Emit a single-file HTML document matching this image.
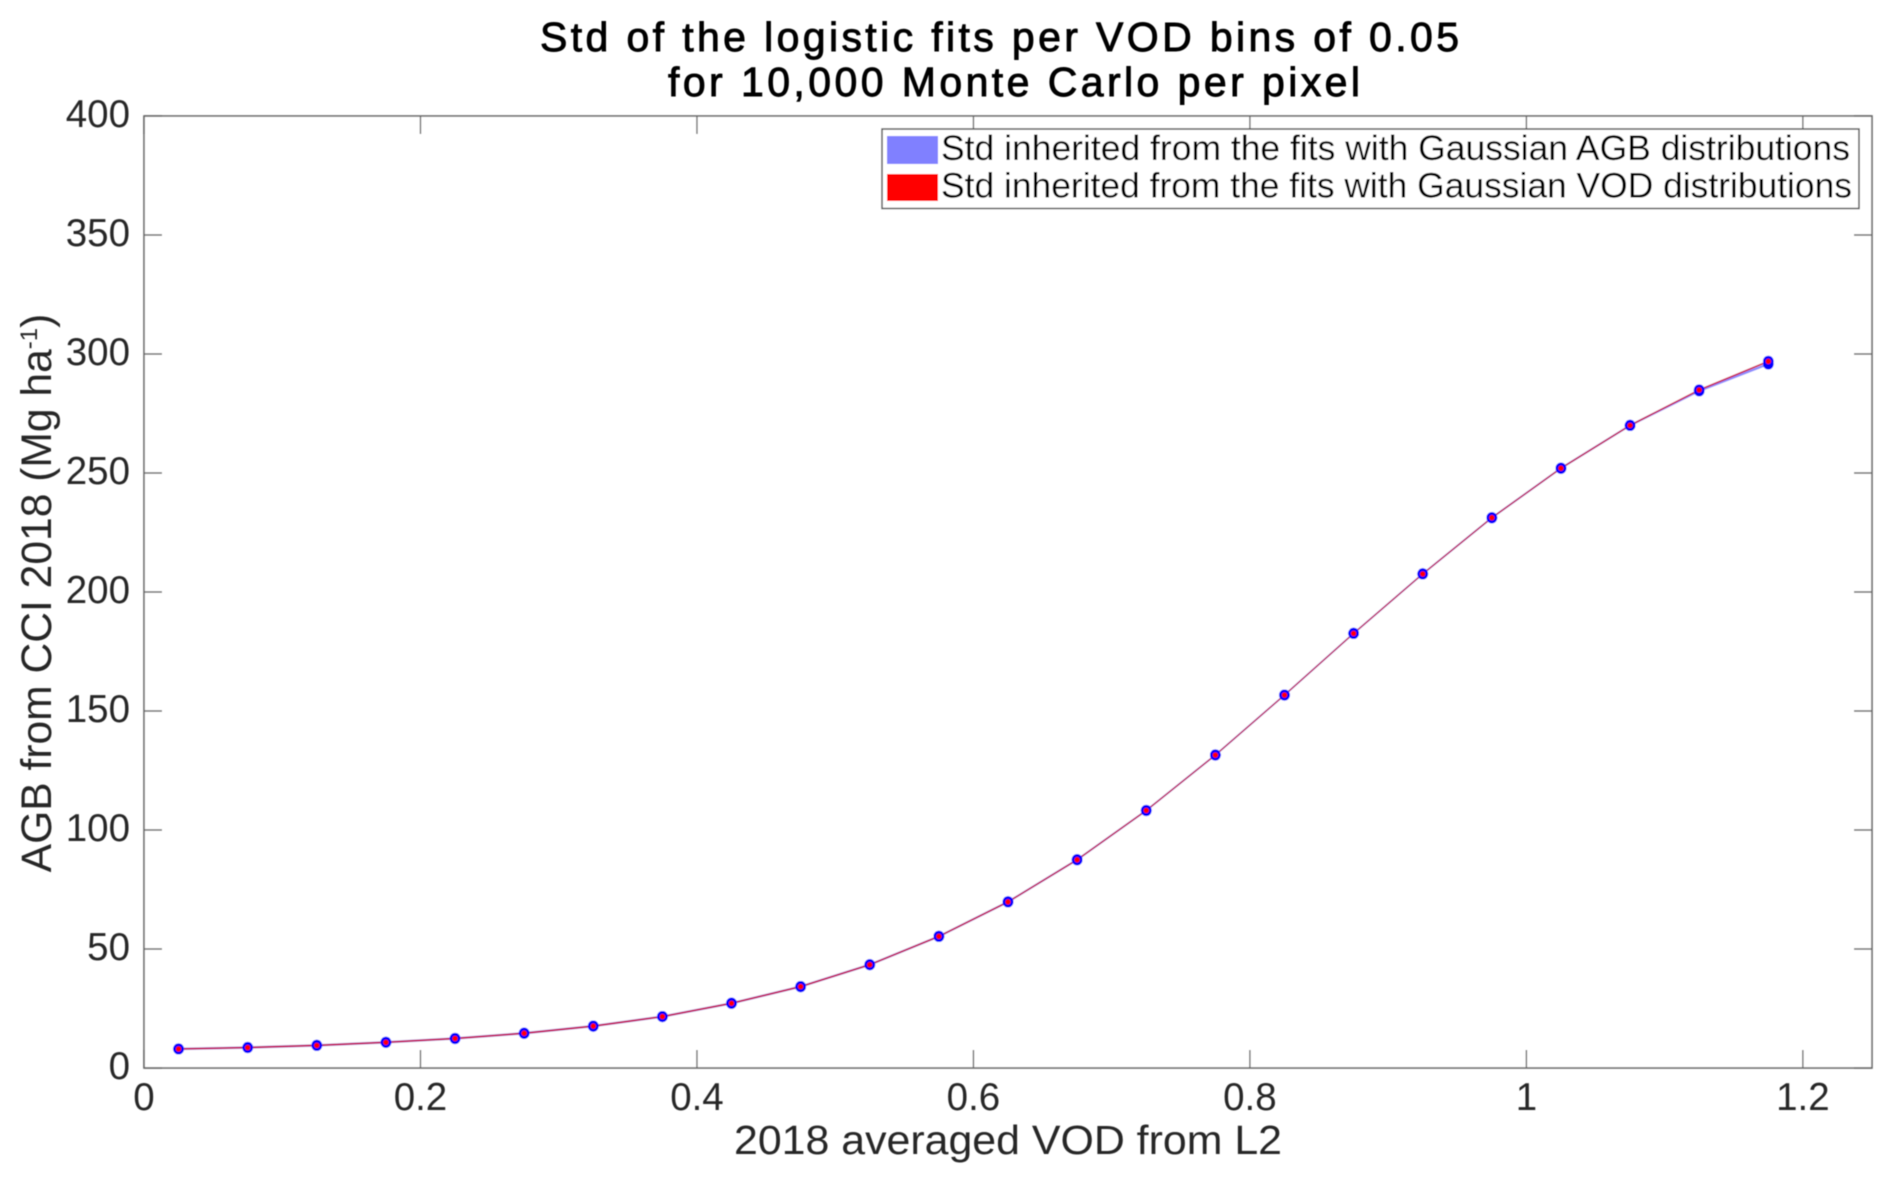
<!DOCTYPE html>
<html>
<head>
<meta charset="utf-8">
<style>
html,body{margin:0;padding:0;background:#fff;}
svg{display:block;}
text{font-family:"Liberation Sans",sans-serif;}
</style>
</head>
<body>
<svg id="chart" width="1892" height="1183" viewBox="0 0 1892 1183" xmlns="http://www.w3.org/2000/svg">
<defs><filter id="soft" x="-2%" y="-2%" width="104%" height="104%"><feGaussianBlur stdDeviation="0.45"/></filter></defs>
<g filter="url(#soft)">
<rect x="144" y="116" width="1728" height="952" fill="#fff"/>
<g id="ticks"></g>
<rect x="144" y="116" width="1728" height="952" fill="none" stroke="#6a6a6a" stroke-width="1.6"/>
<g id="series"></g>
<g id="tick-labels"></g>
<text x="540" y="51" font-size="41" fill="#000" stroke="#000" stroke-width="0.9" textLength="919" lengthAdjust="spacing">Std of the logistic fits per VOD bins of 0.05</text>
<text x="668" y="96" font-size="41" fill="#000" stroke="#000" stroke-width="0.9" textLength="692" lengthAdjust="spacing">for 10,000 Monte Carlo per pixel</text>
<text x="734" y="1154" font-size="41" fill="#262626" textLength="548" lengthAdjust="spacingAndGlyphs">2018 averaged VOD from L2</text>
<text transform="translate(51 593) rotate(-90)" text-anchor="middle" font-size="42.6" fill="#262626">AGB from CCI 2018 (Mg ha<tspan dy="-14" font-size="24">-1</tspan><tspan dy="14">)</tspan></text>
<g>
<rect x="882" y="129" width="977" height="79.5" fill="#fff" stroke="#555" stroke-width="1.5"/>
<rect x="887" y="136" width="51" height="28" fill="#8080ff"/>
<text x="941" y="160" font-size="35" fill="#000" textLength="909" lengthAdjust="spacingAndGlyphs">Std inherited from the fits with Gaussian AGB distributions</text>
<rect x="887" y="174" width="51" height="27" fill="#ff0000"/>
<text x="941" y="197.5" font-size="35" fill="#000" textLength="911" lengthAdjust="spacingAndGlyphs">Std inherited from the fits with Gaussian VOD distributions</text>
</g>
</g>
</svg>
<script>
const vodBins = [0.025,0.075,0.125,0.175,0.225,0.275,0.325,0.375,0.425,0.475,0.525,0.575,0.625,0.675,0.725,0.775,0.825,0.875,0.925,0.975,1.025,1.075,1.125,1.175];
const agbFromAgbFits = [8,8.6,9.5,10.8,12.4,14.6,17.6,21.6,27.2,34.2,43.4,55.3,69.8,87.5,108.2,131.5,156.7,182.6,207.6,231.2,252,270,284.5,295.8];
const agbFromVodFits = [8,8.6,9.5,10.8,12.4,14.6,17.6,21.6,27.2,34.2,43.4,55.3,69.8,87.5,108.2,131.5,156.7,182.6,207.6,231.2,252,270,284.9,296.9];
const agbStdSpread = [0.45,0.45,0.45,0.45,0.45,0.45,0.45,0.45,0.45,0.45,0.45,0.45,0.45,0.45,0.45,0.45,0.45,0.45,0.45,0.45,0.45,0.45,0.45,0.45];
const vodStdSpread = [0.3,0.3,0.3,0.3,0.3,0.3,0.3,0.3,0.3,0.3,0.3,0.3,0.3,0.3,0.3,0.3,0.3,0.3,0.3,0.3,0.3,0.3,0.3,0.3];
const xTickValues = [0,0.2,0.4,0.6,0.8,1,1.2];
const xTickLabels = ['0','0.2','0.4','0.6','0.8','1','1.2'];
const yTickValues = [0,50,100,150,200,250,300,350,400];
const yTickLabels = ['0','50','100','150','200','250','300','350','400'];

const NS = 'http://www.w3.org/2000/svg';
function xScale(v){ return 144 + v * (1728 / 1.25); }
function yScale(v){ return 1068 - v * (952 / 400); }
function make(tag, attrs, parent){
  const el = document.createElementNS(NS, tag);
  for (const k in attrs) el.setAttribute(k, attrs[k]);
  parent.appendChild(el);
  return el;
}
const tickGroup = document.getElementById('ticks');
const labelGroup = document.getElementById('tick-labels');
const seriesGroup = document.getElementById('series');
const tickStyle = {stroke:'#6a6a6a','stroke-width':1.4};

xTickValues.forEach(function(v,i){
  const x = xScale(v);
  const bottom = make('line', Object.assign({x1:x,x2:x,y1:1068,y2:1050}, tickStyle), tickGroup);
  
  
  const top = make('line', Object.assign({x1:x,x2:x,y1:116,y2:134}, tickStyle), tickGroup);
  
  
  const t = make('text', {x:x,y:1110,'text-anchor':'middle','font-size':38.5,fill:'#262626'}, labelGroup);
  t.textContent = xTickLabels[i];
  
  
});
yTickValues.forEach(function(v,i){
  const y = yScale(v);
  const left = make('line', Object.assign({x1:144,x2:162,y1:y,y2:y}, tickStyle), tickGroup);
  
  
  const right = make('line', Object.assign({x1:1872,x2:1854,y1:y,y2:y}, tickStyle), tickGroup);
  
  
  const t = make('text', {x:130,y:y+11,'text-anchor':'end','font-size':38.5,fill:'#262626'}, labelGroup);
  t.textContent = yTickLabels[i];
  
  
});

function bandPoints(means, spreads){
  const upper = vodBins.map(function(b,i){ return xScale(b)+','+yScale(means[i]+spreads[i]); });
  const lower = vodBins.map(function(b,i){ return xScale(b)+','+yScale(means[i]-spreads[i]); }).reverse();
  return upper.concat(lower).join(' ');
}
const agbBand = make('polygon', {points:bandPoints(agbFromAgbFits, agbStdSpread), fill:'#0000ff','fill-opacity':0.45,stroke:'#8080ff','stroke-width':0.5,'stroke-opacity':0.4}, seriesGroup);


const vodBand = make('polygon', {points:bandPoints(agbFromVodFits, vodStdSpread), fill:'#c8104a','fill-opacity':1,stroke:'#d00040','stroke-width':0.4,'stroke-opacity':0.7}, seriesGroup);



vodBins.forEach(function(b,i){
  const a = make('ellipse', {cx:xScale(b),cy:yScale(agbFromAgbFits[i]),rx:5.4,ry:5.6,fill:'#0000ff'}, seriesGroup);
  
  
  const a2 = make('ellipse', {cx:xScale(b),cy:yScale(agbFromVodFits[i]),rx:5.4,ry:5.6,fill:'#0000ff'}, seriesGroup);
  
  
});
vodBins.forEach(function(b,i){
  const r = make('circle', {cx:xScale(b),cy:yScale(agbFromVodFits[i]),r:2.7,fill:'#ff0000'}, seriesGroup);
  
  
});
</script>
</body>
</html>
